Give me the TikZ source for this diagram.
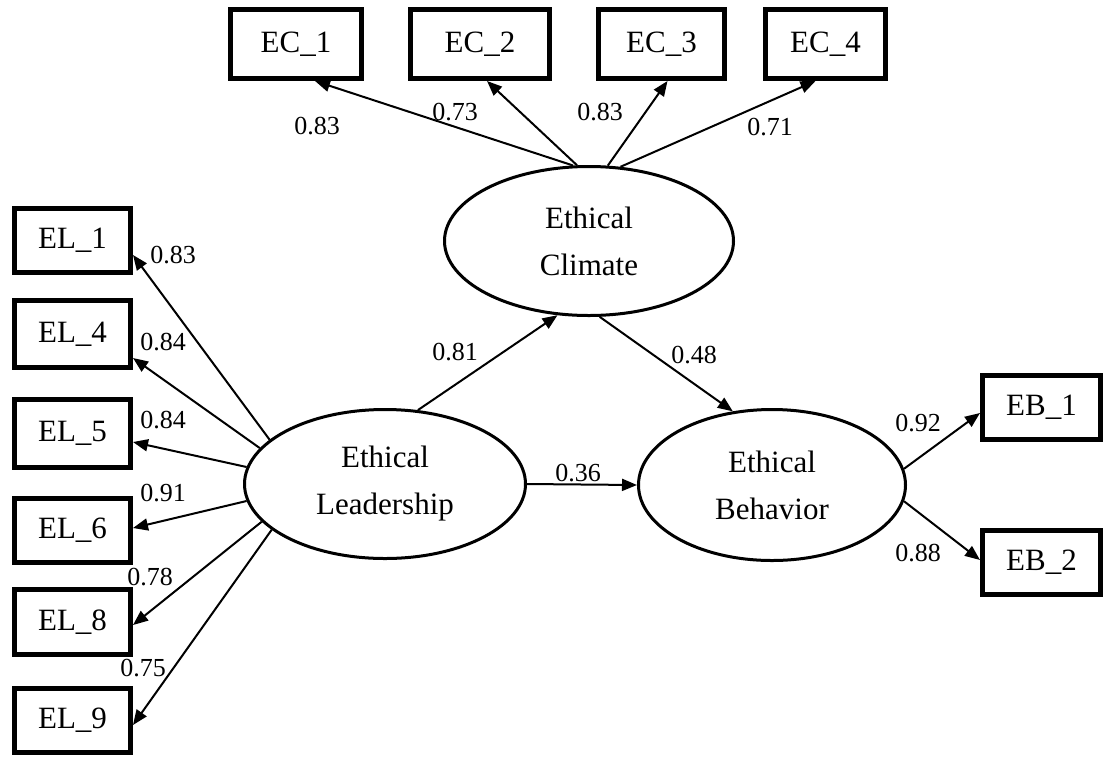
\documentclass[tikz,border=0pt]{standalone}
\usepackage{fontspec}
\setmainfont{Liberation Serif}
\usetikzlibrary{shapes.geometric,arrows.meta}
\begin{document}
\begin{tikzpicture}[x=1pt,y=-1pt,
  obs/.style={draw, line width=5pt, inner sep=0pt, font=\fontsize{31}{36}\selectfont},
  lat/.style={draw, ellipse, line width=3pt, inner sep=0pt, align=center, font=\fontsize{31}{47}\selectfont},
  load/.style={line width=2pt, -{Triangle[length=15pt,width=12pt]}},
  coef/.style={inner sep=0pt, font=\fontsize{26}{30}\selectfont}]
\useasboundingbox (0,0) rectangle (1105,756);

% latent constructs
\node[lat, minimum width=289, minimum height=149] (clim) at (589,241) {Ethical\\Climate};
\node[lat, minimum width=281, minimum height=149] (lead) at (385,484) {Ethical\\Leadership};
\node[lat, minimum width=267, minimum height=151] (beh) at (772,485) {Ethical\\Behavior};

% climate indicators
\node[obs, minimum width=131, minimum height=69] (ec1) at (296,44) {EC\_1};
\node[obs, minimum width=139, minimum height=69] (ec2) at (480,44) {EC\_2};
\node[obs, minimum width=126, minimum height=69] (ec3) at (661.5,44) {EC\_3};
\node[obs, minimum width=120, minimum height=69] (ec4) at (825.5,44) {EC\_4};

% leadership indicators
\node[obs, minimum width=116, minimum height=64] (el1) at (72.5,240) {EL\_1};
\node[obs, minimum width=116, minimum height=67] (el4) at (72.5,334) {EL\_4};
\node[obs, minimum width=116, minimum height=68] (el5) at (72.5,433) {EL\_5};
\node[obs, minimum width=116, minimum height=64] (el6) at (72.5,530) {EL\_6};
\node[obs, minimum width=116, minimum height=65] (el8) at (72.5,622) {EL\_8};
\node[obs, minimum width=116, minimum height=64] (el9) at (72.5,720) {EL\_9};

% behavior indicators
\node[obs, minimum width=118, minimum height=64] (eb1) at (1041.5,407) {EB\_1};
\node[obs, minimum width=118, minimum height=64] (eb2) at (1041.5,562) {EB\_2};

% loadings of the climate construct
\draw[load] (clim.102) -- ([xshift=19pt]ec1.south);
\draw[load] (clim.99) -- ([xshift=7pt]ec2.south);
\draw[load] (clim.76) -- ([xshift=6pt]ec3.south);
\draw[load] (clim.67) -- ([xshift=-10pt]ec4.south);

% loadings of the leadership construct
\draw[load] (lead.159) -- ([yshift=-15pt]el1.east);
\draw[load] (lead.164) -- ([yshift=-24pt]el4.east);
\draw[load] (lead.173) -- ([yshift=-9pt]el5.east);
\draw[load] (lead.187) -- ([yshift=2pt]el6.east);
\draw[load] (lead.197) -- ([yshift=-3pt]el8.east);
\draw[load] (lead.202) -- ([yshift=-5pt]el9.east);

% loadings of the behavior construct
\draw[load] (beh.7) -- ([yshift=-6pt]eb1.west);
\draw[load] (beh.353) -- ([yshift=2pt]eb2.west);

% structural paths
\draw[load] (lead.66.5) -- (clim.247);
\draw[load] (clim.278) -- (beh.118);
\draw[load] (lead.east) -- (beh.west);

% coefficients
\node[coef] (c1) at (317,126) {0.83};
\node[coef] (c2) at (455,112) {0.73};
\node[coef] (c3) at (600,112) {0.83};
\node[coef] (c4) at (770,127) {0.71};
\node[coef] (l1) at (173,255) {0.83};
\node[coef] (l4) at (163,342) {0.84};
\node[coef] (l5) at (163,420) {0.84};
\node[coef] (l6) at (163,493) {0.91};
\node[coef] (l8) at (150,577) {0.78};
\node[coef] (l9) at (143,668) {0.75};
\node[coef] (b1) at (918,423) {0.92};
\node[coef] (b2) at (918,553) {0.88};
\node[coef] (s1) at (455,352) {0.81};
\node[coef] (s2) at (694,355) {0.48};
\node[coef] (s3) at (578,473) {0.36};
\end{tikzpicture}
\end{document}
